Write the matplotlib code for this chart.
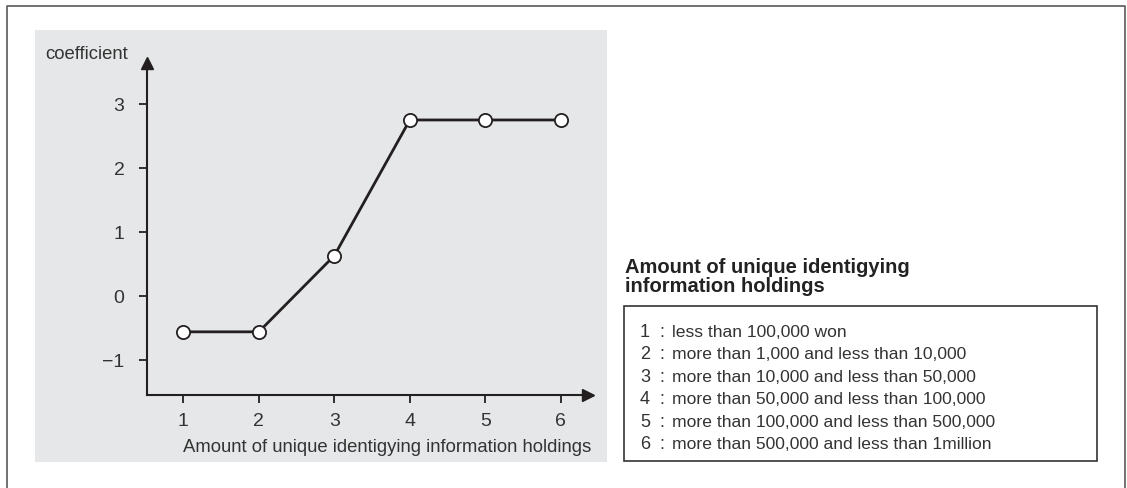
import matplotlib
matplotlib.use("Agg")
import matplotlib.pyplot as plt
from matplotlib.patches import Rectangle
from matplotlib.lines import Line2D

# ---- data ----
categories = [1, 2, 3, 4, 5, 6]
coefficients = [-0.56, -0.56, 0.63, 2.75, 2.75, 2.75]
y_ticks = [-1, 0, 1, 2, 3]
y_tick_labels = ["\u22121", "0", "1", "2", "3"]
x_label = "Amount of unique identigying information holdings"
y_label = "coefficient"
legend_title = "Amount of unique identigying\ninformation holdings"
legend_items = [
    "less than 100,000 won",
    "more than 1,000 and less than 10,000",
    "more than 10,000 and less than 50,000",
    "more than 50,000 and less than 100,000",
    "more than 100,000 and less than 500,000",
    "more than 500,000 and less than 1million",
]

W, H = 1127, 489
fig = plt.figure(figsize=(W / 100, H / 100), dpi=100)
plt.rcParams['font.family'] = ['Liberation Sans', 'DejaVu Sans']

def fx(px):
    return px / W

def fy(py):
    return 1 - py / H

ink = "#231f20"
txt = "#333333"

# outer frame (no bottom line)
fig.add_artist(Line2D([fx(7), fx(7), fx(1125), fx(1125)], [0, fy(7), fy(7), 0],
                      color="#666666", lw=1.3, transform=fig.transFigure))
# gray panel
fig.add_artist(Rectangle((fx(35), fy(463)), fx(607) - fx(35), fy(31) - fy(463),
                         transform=fig.transFigure, facecolor="#e6e7e8", edgecolor="none", zorder=0))

# axes
ax_l, ax_r, ax_b, ax_t = 146.7, 588, 396, 64
ax = fig.add_axes([fx(ax_l), fy(ax_b), fx(ax_r) - fx(ax_l), fy(ax_t) - fy(ax_b)])
ax.patch.set_visible(False)
ax.set_xlim(0.515, 6.36)
ax.set_ylim(-1.547, 3.64)
for s in ["top", "right"]:
    ax.spines[s].set_visible(False)
for s in ["left", "bottom"]:
    ax.spines[s].set_color(ink)
    ax.spines[s].set_linewidth(1.5)
ax.plot(1, 0, ">", color=ink, ms=8, transform=ax.transAxes, clip_on=False)
ax.plot(0, 1, "^", color=ink, ms=8, transform=ax.transAxes, clip_on=False)

ax.set_xticks(categories)
ax.set_xticklabels([str(c) for c in categories])
ax.set_yticks(y_ticks)
ax.set_yticklabels(y_tick_labels)
ax.tick_params(axis="both", direction="out", length=6, width=1.3, color=ink,
               labelsize=14, labelcolor=txt)
ax.tick_params(axis="y", pad=10)
ax.tick_params(axis="x", pad=6.5)

ax.plot(categories, coefficients, color=ink, lw=2.0, marker="o", ms=9.5,
        markerfacecolor="white", markeredgecolor=ink, markeredgewidth=1.3, clip_on=False, zorder=3)

fig.text(fx(183), fy(452), x_label, ha="left", va="baseline", fontsize=13.3, color=txt)
fig.text(fx(45), fy(59), y_label, ha="left", va="baseline", fontsize=13.3, color=txt)

# legend
for j, line in enumerate(legend_title.split("\n")):
    fig.text(fx(625), fy(273 + 19 * j), line, ha="left", va="baseline", fontsize=14.5,
             fontweight="bold", color="#222222")
fig.add_artist(Rectangle((fx(624), fy(462)), fx(1097) - fx(624), fy(307) - fy(462),
                         transform=fig.transFigure, facecolor="white", edgecolor="#333333", lw=1.2))
for i, item in enumerate(legend_items):
    y = 337 + i * 22.4
    fig.text(fx(640), fy(y), str(i + 1), ha="left", va="baseline", fontsize=13, color=txt)
    fig.text(fx(662), fy(y), ":", ha="center", va="baseline", fontsize=13, color=txt)
    fig.text(fx(672), fy(y), item, ha="left", va="baseline", fontsize=12.6, color=txt)

fig.savefig("out.png", dpi=100)
